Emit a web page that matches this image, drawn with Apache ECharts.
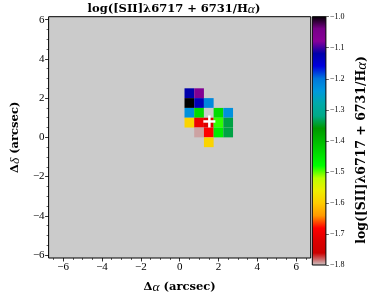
<!DOCTYPE html>
<html><head><meta charset="utf-8">
<script src="https://cdn.jsdelivr.net/npm/echarts@6/dist/echarts.min.js"></script>
<style>html,body{margin:0;padding:0;background:#fff}#c{width:374px;height:299px}</style>
</head><body><div id="c"></div>
<script>
// spaxel centres (arcsec) and log([SII]/Ha) values
const cellX = [0.5, 1.0,  0.5, 1.0, 1.5,  0.5, 1.0, 1.5, 2.0, 2.5,  0.5, 1.0, 1.5, 2.0, 2.5,  1.0, 1.5, 2.0, 2.5,  1.5];
const cellY = [2.25, 2.25, 1.75, 1.75, 1.75, 1.25, 1.25, 1.25, 1.25, 1.25, 0.75, 0.75, 0.75, 0.75, 0.75, 0.25, 0.25, 0.25, 0.25, -0.25];
const cellVal = [-1.12, -1.065, -1.0, -1.13, -1.22, -1.23, -1.44, -1.85, -1.44, -1.23, -1.59, -1.70, -1.72, -1.49, -1.34, -1.792, -1.68, -1.46, -1.34, -1.59];
const centreMark = [1.53, 0.81];
const xTicks = [-6, -4, -2, 0, 2, 4, 6];
const yTicks = [-6, -4, -2, 0, 2, 4, 6];
const cbTicks = [-1.8, -1.7, -1.6, -1.5, -1.4, -1.3, -1.2, -1.1, -1.0];
const cbRange = [-1.8, -1.0];
// nipy_spectral colour stops (t = 0 .. 1)
const cmap = ['#000000','#770088','#880099','#0000aa','#0000dd','#0077dd','#0099dd','#00aaaa','#00aa88','#009900','#00bb00','#00dd00','#00ff00','#bbff00','#eeee00','#ffcc00','#ff9900','#ff0000','#dd0000','#cc0000','#cccccc'];

const xRange = [-6.75, 6.75];
const yRange = [-6.15, 6.15];
const half = 0.25;

const xMinor = [], yMinor = [];
for (let v = -6.5; v <= 6.5001; v += 0.5) if (Math.abs(v % 2) > 1e-6) xMinor.push(v);
for (let v = -6; v <= 6.0001; v += 0.5) if (Math.abs(v % 2) > 1e-6) yMinor.push(v);

const cells = cellX.map((x, i) => [x, cellY[i], cellVal[i]]);
const fmt = v => (v < 0 ? '\u2212' : '') + Math.abs(v);
const fmt1 = v => (v < 0 ? '\u2212' : '') + Math.abs(v).toFixed(1);

const SERIF = 'Liberation Serif';
const BSERIF = 'DejaVu Serif';
const mkRich = s => ({
  b: {fontFamily: BSERIF, fontWeight: 'bold', fontSize: s, color: '#000'},
  i: {fontFamily: SERIF, fontStyle: 'italic', fontSize: s + 2, color: '#000'}
});
const noLine = {show: false, onZero: false};

const chart = echarts.init(document.getElementById('c'));
chart.setOption({
  animation: false,
  backgroundColor: '#ffffff',
  grid: [
    {left: 37.3, top: 16.7, width: 273.4, height: 248.3, show: true, backgroundColor: '#cbcbcb', borderColor: '#000', borderWidth: 1},
    {left: 312.3, top: 16.7, width: 13.6, height: 248.3, show: false}
  ],
  xAxis: [
    {gridIndex: 0, type: 'value', min: xRange[0], max: xRange[1], position: 'bottom',
     axisLine: noLine, splitLine: {show: false},
     axisTick: {show: true, customValues: xTicks, length: 3.5, lineStyle: {color: '#000', width: 0.8}},
     axisLabel: {customValues: xTicks, formatter: fmt, margin: 4, fontFamily: SERIF, fontSize: 11, color: '#000'},
     name: '{b|\u0394}{i|\u03b1}{b| (arcsec)}', nameLocation: 'middle', nameGap: 22,
     nameTextStyle: {rich: mkRich(11.5)}},
    {gridIndex: 0, type: 'value', min: xRange[0], max: xRange[1], position: 'bottom',
     axisLine: noLine, splitLine: {show: false}, axisLabel: {show: false},
     axisTick: {show: true, customValues: xMinor, length: 2, lineStyle: {color: '#000', width: 0.6}}},
    {gridIndex: 1, type: 'value', min: 0, max: 1, show: false, axisLine: noLine}
  ],
  yAxis: [
    {gridIndex: 0, type: 'value', min: yRange[0], max: yRange[1], position: 'left',
     axisLine: noLine, splitLine: {show: false},
     axisTick: {show: true, customValues: yTicks, length: 3.5, lineStyle: {color: '#000', width: 0.8}},
     axisLabel: {customValues: yTicks, formatter: fmt, margin: 4, fontFamily: SERIF, fontSize: 11, color: '#000'},
     name: '{b|\u0394}{i|\u03b4}{b| (arcsec)}', nameLocation: 'middle', nameGap: 24, nameRotate: 90,
     nameTextStyle: {rich: mkRich(11.5)}},
    {gridIndex: 0, type: 'value', min: yRange[0], max: yRange[1], position: 'left',
     axisLine: noLine, splitLine: {show: false}, axisLabel: {show: false},
     axisTick: {show: true, customValues: yMinor, length: 2, lineStyle: {color: '#000', width: 0.6}}},
    {gridIndex: 1, type: 'value', min: cbRange[0], max: cbRange[1], position: 'right',
     axisLine: noLine, splitLine: {show: false},
     axisTick: {show: true, customValues: cbTicks, length: 3, lineStyle: {color: '#000', width: 0.6}},
     axisLabel: {customValues: cbTicks, formatter: fmt1, margin: 4, fontFamily: SERIF, fontSize: 8, color: '#000'}}
  ],
  visualMap: {
    type: 'continuous', show: false, seriesIndex: 0, dimension: 2,
    min: cbRange[0], max: cbRange[1],
    inRange: {color: cmap.slice().reverse()},
    outOfRange: {color: '#d4d4d4'}
  },
  series: [
    {type: 'custom', xAxisIndex: 0, yAxisIndex: 0, data: cells,
     renderItem: function (params, api) {
       const p0 = api.coord([api.value(0) - half, api.value(1) + half]);
       const p1 = api.coord([api.value(0) + half, api.value(1) - half]);
       return {type: 'rect', shape: {x: p0[0], y: p0[1], width: p1[0] - p0[0], height: p1[1] - p0[1]},
               style: {fill: api.visual('color')}};
     }},
    {type: 'custom', xAxisIndex: 0, yAxisIndex: 0, data: [centreMark], z: 5,
     renderItem: function (params, api) {
       const c = api.coord([api.value(0), api.value(1)]);
       const s = 6;
       return {type: 'group', children: [
         {type: 'line', shape: {x1: c[0] - s, y1: c[1], x2: c[0] + s, y2: c[1]}, style: {stroke: '#fff', lineWidth: 2.5}},
         {type: 'line', shape: {x1: c[0], y1: c[1] - s, x2: c[0], y2: c[1] + s}, style: {stroke: '#fff', lineWidth: 2.5}}
       ]};
     }},
    {type: 'custom', xAxisIndex: 2, yAxisIndex: 2, data: [[0, cbRange[0], cbRange[1]]],
     renderItem: function (params, api) {
       const p0 = api.coord([0, api.value(2)]);
       const p1 = api.coord([1, api.value(1)]);
       const stops = cmap.map((c, i) => ({offset: i / (cmap.length - 1), color: c}));
       return {type: 'rect', shape: {x: p0[0], y: p0[1], width: p1[0] - p0[0], height: p1[1] - p0[1]},
               style: {fill: new echarts.graphic.LinearGradient(0, 0, 0, 1, stops), stroke: '#000', lineWidth: 1}};
     }}
  ],
  graphic: [
    {type: 'text', x: 174, y: 9,
     style: {text: '{b|log([SII]\u03bb6717 + 6731/H}{i|\u03b1}{b|)}', align: 'center', verticalAlign: 'middle', rich: mkRich(11.5)}},
    {type: 'text', x: 362, y: 150, rotation: Math.PI / 2,
     style: {text: '{b|log([SII]\u03bb6717 + 6731/H}{i|\u03b1}{b|)}', align: 'center', verticalAlign: 'middle', rich: mkRich(12.5)}}
  ]
});
</script></body></html>
